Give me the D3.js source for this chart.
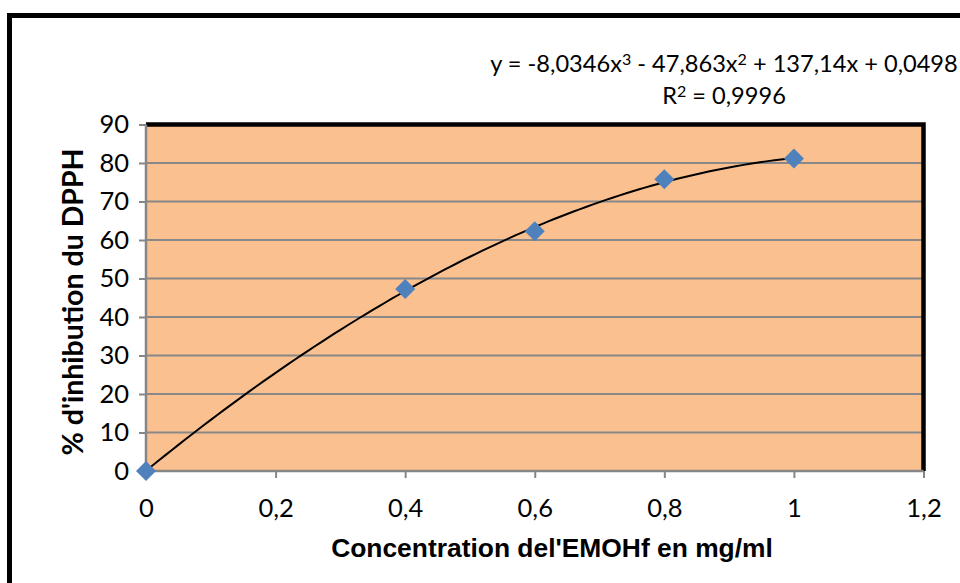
<!DOCTYPE html>
<html><head><meta charset="utf-8">
<script src="https://cdn.jsdelivr.net/npm/d3@7"></script>
<style>html,body{margin:0;padding:0;background:#fff;overflow:hidden}</style>
</head><body>
<svg id="c" width="960" height="583"></svg>
<script>
const concentrations = [0, 0.4, 0.6, 0.8, 1];
const inhibition = [0, 47.3, 62.3, 75.8, 81.2];
const trendCoefficients = [0.0498, 137.14, -47.863, -8.0346]; // c0 + c1 x + c2 x^2 + c3 x^3
const xTicks = [0, 0.2, 0.4, 0.6, 0.8, 1, 1.2];
const yTicks = [0, 10, 20, 30, 40, 50, 60, 70, 80, 90];
const equationParts = [["y = -8,0346x", false], ["3", true], [" - 47,863x", false], ["2", true], [" + 137,14x + 0,0498", false]];
const r2Parts = [["R", false], ["2", true], [" = 0,9996", false]];
const xTitle = "Concentration del'EMOHf en mg/ml";
const yTitle = "% d'inhibution du DPPH";

const svg = d3.select("#c");
const L = 146, R = 923.5, T = 124.5, B = 471;
const x = d3.scaleLinear().domain([0, 1.2]).range([L, R]);
const y = d3.scaleLinear().domain([0, 90]).range([B, T]);
const fmt = d => String(+d.toFixed(1)).replace(".", ",");
const tickFont = "Lato, 'Open Sans', sans-serif";

// outer chart border
svg.append("rect").attr("x", 9.5).attr("y", 15.5).attr("width", 1000).attr("height", 1000)
  .attr("fill", "none").attr("stroke", "#000").attr("stroke-width", 5);

// plot area
svg.append("rect").attr("x", L).attr("y", T).attr("width", R - L).attr("height", B - T)
  .attr("fill", "#FAC090");

// gridlines
svg.append("g").selectAll("line").data(yTicks.filter(d => d > 0)).join("line")
  .attr("x1", L).attr("x2", R).attr("y1", d => y(d)).attr("y2", d => y(d))
  .attr("stroke", "#888888").attr("stroke-width", 2);

// frame top/right black
svg.append("path").attr("d", `M${L},${T}H${R}V${B}`).attr("fill", "none")
  .attr("stroke", "#000").attr("stroke-width", 4.5);

// axes
const yAxis = d3.axisLeft(y).tickValues(yTicks).tickFormat(d => d).tickSize(7).tickPadding(10);
const gy = svg.append("g").attr("transform", `translate(${L},0)`).call(yAxis);
const xAxis = d3.axisBottom(x).tickValues(xTicks).tickFormat(fmt).tickSize(7).tickPadding(21);
const gx = svg.append("g").attr("transform", `translate(0,${B})`).call(xAxis);
[gx, gy].forEach(g => {
  g.select(".domain").attr("stroke", "#868686").attr("stroke-width", 2.5);
  g.selectAll(".tick line").attr("stroke", "#868686").attr("stroke-width", 2);
  g.selectAll(".tick text").attr("font-family", tickFont).attr("font-size", 25.5).attr("fill", "#000");
});
gx.select(".domain").attr("d", `M${L},0H${R}`);
gy.select(".domain").attr("d", `M0,${B}V${T}`);
gx.selectAll(".tick line").filter(d => d === 0).remove();

// trendline
const poly = v => trendCoefficients.reduce((s, c, i) => s + c * Math.pow(v, i), 0);
const xs = d3.range(0, 1.0001, 0.01);
svg.append("path").datum(xs)
  .attr("d", d3.line().x(d => x(d)).y(d => y(poly(d))))
  .attr("fill", "none").attr("stroke", "#000").attr("stroke-width", 2);

// markers
svg.append("g").selectAll("path").data(concentrations).join("path")
  .attr("transform", (d, i) => `translate(${x(d)},${y(inhibition[i])})`)
  .attr("d", "M0,-10L10,0L0,10L-10,0Z")
  .attr("fill", "#4F81BD");

// equation
function richText(parts, cx, cy, size) {
  const t = svg.append("text").attr("x", cx).attr("y", cy).attr("text-anchor", "middle")
    .attr("font-family", tickFont).attr("font-size", size);
  parts.forEach(([s, sup]) => {
    const ts = t.append("tspan").text(s);
    if (sup) ts.attr("font-size", size * 0.68).attr("baseline-shift", "45%");
  });
}
richText(equationParts, 724, 72, 23.6);
richText(r2Parts, 724, 104, 23.6);

// axis titles
svg.append("text").attr("x", 552).attr("y", 557).attr("text-anchor", "middle")
  .attr("font-family", "'Liberation Sans', Arial, sans-serif").attr("font-weight", "bold")
  .attr("font-size", 26.4).text(xTitle);
svg.append("text").attr("transform", "translate(83,302) rotate(-90)").attr("text-anchor", "middle")
  .attr("font-family", tickFont).attr("font-weight", "bold")
  .attr("font-size", 28.5).text(yTitle);
</script>
</body></html>
